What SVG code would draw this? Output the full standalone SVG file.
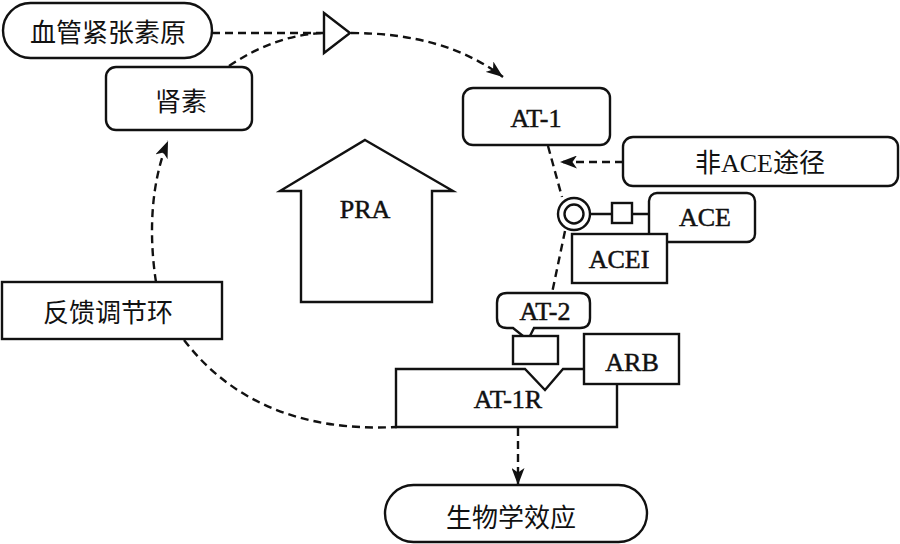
<svg xmlns="http://www.w3.org/2000/svg" width="900" height="544" viewBox="0 0 900 544">
<style>
.box{fill:#fff;stroke:#111;stroke-width:2.4}
.ln{fill:none;stroke:#111;stroke-width:2.4}
.dash{fill:none;stroke:#111;stroke-width:2.4;stroke-dasharray:8 5}
.zh{font-family:"Liberation Serif","Noto Sans CJK SC",serif;font-size:26px;fill:#111;text-anchor:middle}
.en{font-family:"Liberation Serif",serif;font-size:26px;fill:#111;stroke:#111;stroke-width:0.5;text-anchor:middle}
</style>
<defs>
<marker id="ah" markerUnits="userSpaceOnUse" markerWidth="18" markerHeight="13" refX="17" refY="6.5" orient="auto">
<path d="M0,0 L17,6.5 L0,13 L4.5,6.5 z" fill="#111"/>
</marker>
</defs>
<rect width="900" height="544" fill="#fff"/>
<g id="connectors">
<path class="dash" d="M212,33 L323,33"/>
<path class="dash" d="M229,66 Q275,35 323,33"/>
<path class="dash" d="M351,33 Q445,33 503,77" marker-end="url(#ah)"/>
<path class="dash" d="M548,146 L562,197"/>
<path class="dash" d="M565,231 L552,293"/>
<path class="dash" d="M623,162 L560,162" marker-end="url(#ah)"/>
<path class="dash" d="M184,340 C230,400 300,432 397,427"/>
<path class="dash" d="M156,282 C148,230 152,180 168,141" marker-end="url(#ah)"/>
<path class="dash" d="M518,428 L518,485" marker-end="url(#ah)"/>
<path class="ln" d="M590,214 L612,214 M632,214 L649,214"/>
</g>
<g id="agt">
<rect class="box" x="3" y="3" width="209" height="55" rx="27.5"/>
<text class="zh" x="108" y="42">血管紧张素原</text>
</g>
<g id="tri">
<path class="box" d="M324,13 L350,33 L324,53 z"/>
</g>
<g id="renin">
<rect class="box" x="106" y="67" width="146" height="63" rx="10"/>
<text class="zh" x="181" y="111">肾素</text>
</g>
<g id="at1">
<rect class="box" x="463" y="88" width="147" height="57" rx="10"/>
<text class="en" x="536" y="127">AT-1</text>
</g>
<g id="nonace">
<rect class="box" x="623" y="137" width="275" height="49" rx="10"/>
<text class="zh" x="760" y="172">非ACE途径</text>
</g>
<g id="enzyme">
<circle class="box" cx="574" cy="214" r="16"/>
<circle class="box" cx="574" cy="214" r="9.5"/>
<rect class="box" x="612" y="203" width="20" height="20"/>
</g>
<g id="ace">
<rect class="box" x="649" y="193" width="106" height="49" rx="8"/>
<text class="en" x="705" y="226">ACE</text>
</g>
<g id="acei">
<rect class="box" x="572" y="234" width="95" height="49"/>
<text class="en" x="619" y="268">ACEI</text>
</g>
<g id="pra">
<path class="box" d="M365,140 L453,191 L432,191 L432,302 L301,302 L301,191 L280,191 z"/>
<text class="en" x="365" y="218">PRA</text>
</g>
<g id="feedback">
<rect class="box" x="2" y="282" width="220" height="57"/>
<text class="zh" x="108" y="322">反馈调节环</text>
</g>
<g id="at1r">
<path class="box" d="M396,369 L525,369 L545,390 L563,369 L617,369 L617,427 L396,427 z"/>
<text class="en" x="508" y="408">AT-1R</text>
</g>
<g id="at2">
<path class="box" d="M507,293 L580,293 Q590,293 590,303 L590,318 Q590,328 580,328 L534,328 L528,340 L513,328 L507,328 Q497,328 497,318 L497,303 Q497,293 507,293 z"/>
<text class="en" x="545" y="320">AT-2</text>
<rect class="box" x="513" y="336" width="45" height="28"/>
</g>
<g id="arb">
<rect class="box" x="584" y="334" width="95" height="50"/>
<text class="en" x="632" y="371">ARB</text>
</g>
<g id="effect">
<rect class="box" x="385" y="485" width="262" height="57" rx="28.5"/>
<text class="zh" x="511" y="527">生物学效应</text>
</g>
</svg>
